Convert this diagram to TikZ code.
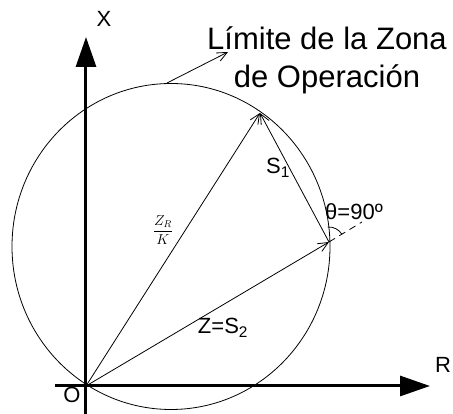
\documentclass[tikz,border=0pt]{standalone}
\usepackage{fontspec}
\setmainfont{Liberation Sans}
\usetikzlibrary{positioning, arrows.meta}

\begin{document}
\begin{tikzpicture}[x=1pt, y=1pt, line width=0.8pt,
  axis/.style={line width=3pt, -{Triangle[length=30pt, width=20pt]}},
  vec/.style={-{Straight Barb[length=10pt, width=9pt]}},
  lbl/.style={font=\fontsize{22}{26}\selectfont, inner sep=0pt},
  title/.style={font=\fontsize{31}{38}\selectfont, align=center, inner sep=0pt}
]
    \useasboundingbox (-86,-28) rectangle (367,386);

    % points of the diagram
    \coordinate (o) at (0,0);
    \coordinate (zr) at (174,273);
    \coordinate (z) at (243,144);
    \coordinate (ext) at (276,164);
    \coordinate (lead) at (81,303);
    \coordinate (leadend) at (142,334);

    % zone circle
    \draw (85,139.5) ellipse [x radius=159, y radius=163];

    % axes
    \draw[axis] (0,-28) -- (0,349);
    \draw[axis] (-31,0) -- (344,0);

    % vectors
    \draw[vec] (o) -- (zr);
    \draw[vec] (o) -- (z);
    \draw[vec] (z) -- (zr);
    \draw[dash pattern=on 7pt off 5pt] (z) -- (ext);
    \draw ([shift={(31:15)}]z) arc[start angle=31, end angle=95, radius=15];
    \draw[vec] (lead) -- (leadend);

    % labels
    \node[lbl] (xlbl) at (18,367) {X};
    \node[lbl] (rlbl) at (357,21) {R};
    \node[lbl] (olbl) at (-14,-9) {O};
    \node[lbl] (s1lbl) at (192,218) {S\textsubscript{1}};
    \node[lbl] (s2lbl) at (137,58) {Z=S\textsubscript{2}};
    \node[lbl] (thlbl) at (268,174) {θ=90º};
    \node[inner sep=0pt, font=\fontsize{14}{16}\selectfont] (zklbl) at (77,156) {$\displaystyle\frac{Z_R}{K}$};
    \node[title] (zona) at (241,326) {Límite de la Zona\\de Operación};
\end{tikzpicture}
\end{document}
